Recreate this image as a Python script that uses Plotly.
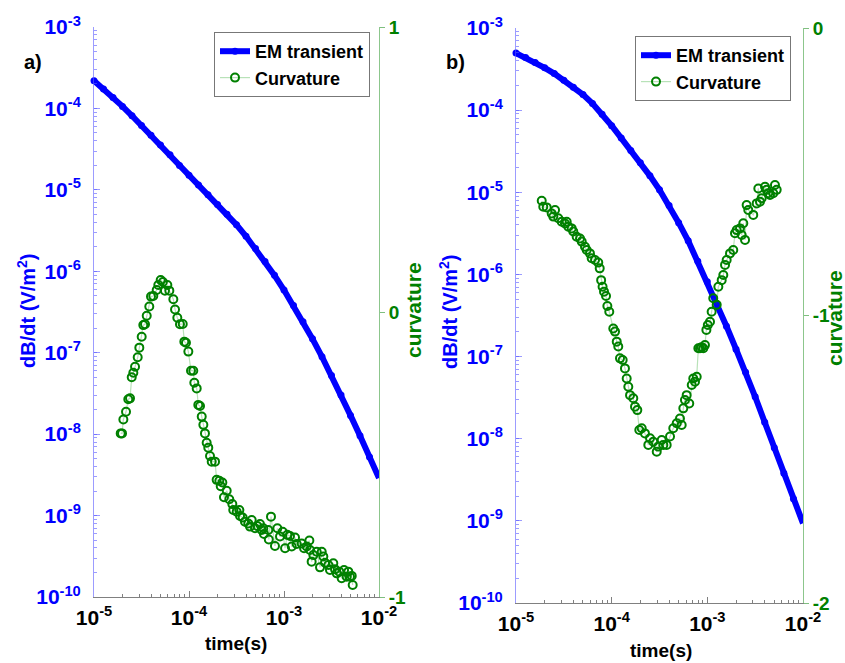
import numpy as np
import plotly.graph_objects as go

# ---------------- data ----------------
# time grid of the EM transients (s), every 0.1 decade
em_time_log10 = [-5.0, -4.9, -4.8, -4.7, -4.6, -4.5, -4.4, -4.3, -4.2, -4.1,
                 -4.0, -3.9, -3.8, -3.7, -3.6, -3.5, -3.4, -3.3, -3.2, -3.1,
                 -3.0, -2.9, -2.8, -2.7, -2.6, -2.5, -2.4, -2.3, -2.2, -2.1, -2.0]
# log10 of dB/dt (V/m^2)
em_a_log10 = [-3.66, -3.76, -3.865, -3.975, -4.09, -4.21, -4.33, -4.45, -4.57, -4.70,
              -4.82, -4.94, -5.06, -5.18, -5.30, -5.43, -5.57, -5.72, -5.88, -6.05,
              -6.23, -6.42, -6.62, -6.83, -7.05, -7.28, -7.52, -7.77, -8.02, -8.28, -8.54]
em_b_log10 = [-3.305, -3.36, -3.42, -3.485, -3.555, -3.635, -3.72, -3.81, -3.92, -4.05,
              -4.19, -4.34, -4.49, -4.64, -4.80, -4.97, -5.16, -5.37, -5.59, -5.84,
              -6.09, -6.36, -6.63, -6.91, -7.19, -7.49, -7.80, -8.11, -8.42, -8.73, -9.03]

# curvature, panel a)
curv_a_time_log10 = [
    -4.719, -4.705, -4.691, -4.663, -4.639, -4.621, -4.603, -4.586, -4.568, -4.540,
    -4.523, -4.498, -4.481, -4.463, -4.445, -4.418, -4.400, -4.376, -4.340, -4.323,
    -4.298, -4.275, -4.253, -4.228, -4.207, -4.165, -4.147, -4.123, -4.095, -4.066,
    -4.049, -4.032, -4.007, -3.979, -3.955, -3.944, -3.919, -3.902, -3.884, -3.866,
    -3.849, -3.832, -3.814, -3.797, -3.779, -3.761, -3.726, -3.709, -3.681, -3.666,
    -3.649, -3.632, -3.603, -3.576, -3.544, -3.534, -3.498, -3.470, -3.463, -3.435,
    -3.411, -3.376, -3.358, -3.340, -3.305, -3.281, -3.253, -3.235, -3.218, -3.211,
    -3.165, -3.160, -3.137, -3.095, -3.070, -3.042, -3.014, -2.989, -2.965, -2.937,
    -2.919, -2.884, -2.866, -2.814, -2.789, -2.761, -2.733, -2.726, -2.709, -2.691,
    -2.656, -2.621, -2.603, -2.586, -2.568, -2.533, -2.516, -2.481, -2.463, -2.445,
    -2.418, -2.393, -2.368, -2.340, -2.323, -2.305, -2.287, -2.277]
curv_a = [
    -0.426, -0.426, -0.377, -0.350, -0.306, -0.303, -0.229, -0.213, -0.192, -0.159,
    -0.125, -0.087, -0.046, -0.043, -0.013, 0.019, 0.054, 0.056, 0.077, 0.095,
    0.112, 0.105, 0.075, 0.095, 0.075, 0.045, 0.009, -0.020, -0.043, -0.042,
    -0.104, -0.108, -0.139, -0.206, -0.206, -0.248, -0.268, -0.326, -0.330, -0.367,
    -0.396, -0.426, -0.459, -0.476, -0.505, -0.525, -0.525, -0.589, -0.592, -0.611,
    -0.598, -0.650, -0.627, -0.657, -0.674, -0.695, -0.701, -0.695, -0.716, -0.721,
    -0.736, -0.742, -0.753, -0.730, -0.759, -0.751, -0.744, -0.765, -0.759, -0.779,
    -0.765, -0.798, -0.718, -0.821, -0.759, -0.788, -0.771, -0.829, -0.782, -0.786,
    -0.823, -0.791, -0.814, -0.812, -0.829, -0.823, -0.802, -0.835, -0.876, -0.853,
    -0.841, -0.896, -0.841, -0.858, -0.880, -0.888, -0.905, -0.882, -0.903, -0.917,
    -0.911, -0.934, -0.905, -0.929, -0.911, -0.929, -0.926, -0.958]

# curvature, panel b)
curv_b_time_log10 = [
    -4.731, -4.715, -4.679, -4.627, -4.610, -4.592, -4.558, -4.522, -4.488, -4.470,
    -4.453, -4.418, -4.401, -4.366, -4.331, -4.313, -4.279, -4.261, -4.227, -4.209,
    -4.174, -4.140, -4.125, -4.110, -4.095, -4.080, -4.059, -4.045, -4.025, -3.983,
    -3.965, -3.947, -3.931, -3.913, -3.885, -3.861, -3.843, -3.826, -3.808, -3.774,
    -3.756, -3.732, -3.711, -3.686, -3.652, -3.617, -3.599, -3.565, -3.529, -3.513,
    -3.477, -3.460, -3.425, -3.390, -3.356, -3.320, -3.286, -3.268, -3.251, -3.234,
    -3.216, -3.189, -3.163, -3.147, -3.129, -3.111, -3.094, -3.077, -3.060, -3.042,
    -3.025, -3.010, -2.995, -2.972, -2.955, -2.938, -2.902, -2.885, -2.850, -2.833,
    -2.815, -2.798, -2.763, -2.729, -2.711, -2.693, -2.659, -2.641, -2.624, -2.606,
    -2.589, -2.572, -2.520, -2.484, -2.467, -2.450, -2.432, -2.397, -2.380, -2.363,
    -2.345, -2.311, -2.293, -2.275]
curv_b = [
    -0.601, -0.622, -0.624, -0.645, -0.656, -0.633, -0.662, -0.674, -0.680, -0.674,
    -0.691, -0.697, -0.708, -0.726, -0.732, -0.743, -0.761, -0.772, -0.784, -0.801,
    -0.807, -0.816, -0.836, -0.877, -0.900, -0.917, -0.932, -0.967, -0.987, -1.045,
    -1.056, -1.091, -1.108, -1.149, -1.155, -1.184, -1.219, -1.248, -1.277, -1.288,
    -1.317, -1.329, -1.398, -1.392, -1.410, -1.450, -1.427, -1.439, -1.474, -1.456,
    -1.433, -1.450, -1.450, -1.421, -1.392, -1.375, -1.358, -1.381, -1.323, -1.294,
    -1.277, -1.306, -1.242, -1.219, -1.230, -1.213, -1.114, -1.114, -1.110, -1.114,
    -1.103, -1.050, -1.033, -1.022, -0.987, -0.940, -0.963, -0.900, -0.877, -0.859,
    -0.824, -0.807, -0.784, -0.772, -0.714, -0.703, -0.697, -0.720, -0.679, -0.737,
    -0.616, -0.633, -0.650, -0.610, -0.558, -0.604, -0.592, -0.552, -0.563, -0.575,
    -0.581, -0.575, -0.546, -0.563]

x_tick_vals = [1e-5, 1e-4, 1e-3, 1e-2]
x_tick_text = ["10<sup>-5</sup>", "10<sup>-4</sup>", "10<sup>-3</sup>", "10<sup>-2</sup>"]
y_tick_vals = [1e-10, 1e-9, 1e-8, 1e-7, 1e-6, 1e-5, 1e-4, 1e-3]
y_tick_text = ["10<sup>-10</sup>", "10<sup>-9</sup>", "10<sup>-8</sup>", "10<sup>-7</sup>",
               "10<sup>-6</sup>", "10<sup>-5</sup>", "10<sup>-4</sup>", "10<sup>-3</sup>"]
curv_a_ticks = [-1, 0, 1]
curv_b_ticks = [-2, -1, 0]

# ---------------- figure ----------------
W, H = 845, 663
FONT = "Liberation Sans, Arial, sans-serif"
BLUE = "rgb(0,0,255)"
GREEN = "rgb(0,128,0)"

em_t = 10 ** np.array(em_time_log10)

fig = go.Figure()

def em_trace(vals, xa, ya, leg):
    return go.Scatter(x=em_t, y=10 ** np.array(vals), xaxis=xa, yaxis=ya,
                      mode="lines+markers", name="EM transient", legend=leg,
                      line=dict(color=BLUE, width=6),
                      marker=dict(color=BLUE, size=7), cliponaxis=False)

def curv_trace(tl, vals, xa, ya, leg):
    return go.Scatter(x=10 ** np.array(tl), y=vals, xaxis=xa, yaxis=ya,
                      mode="lines+markers", name="Curvature", legend=leg,
                      line=dict(color="rgba(0,150,0,0.28)", width=1.2),
                      marker=dict(symbol="circle-open", size=8, color=GREEN,
                                  line=dict(width=2, color=GREEN)),
                      cliponaxis=False)

fig.add_trace(em_trace(em_a_log10, "x", "y", "legend"))
fig.add_trace(curv_trace(curv_a_time_log10, curv_a, "x", "y2", "legend"))
fig.add_trace(em_trace(em_b_log10, "x2", "y3", "legend2"))
fig.add_trace(curv_trace(curv_b_time_log10, curv_b, "x2", "y4", "legend2"))

def px_x(p):
    return p / W

def px_y(p):
    return 1 - p / H

xdom_a = [px_x(94), px_x(379)]
xdom_b = [px_x(516), px_x(803)]
ydom_a = [px_y(597), px_y(27)]
ydom_b = [px_y(603), px_y(28)]

def xaxis(dom, anchor):
    return dict(domain=dom, anchor=anchor, type="log", range=[-5, -2],
                tickmode="array", tickvals=x_tick_vals, ticktext=x_tick_text,
                ticks="inside", ticklen=6, tickcolor="gray", tickwidth=1,
                showline=True, linecolor="gray", linewidth=1, mirror=False,
                showgrid=False, zeroline=False, ticklabelstandoff=2,
                minor=dict(ticks="inside", ticklen=3, tickcolor="gray", dtick="D1", showgrid=False),
                tickfont=dict(family=FONT, size=21, color="black", weight="bold"),
                automargin=False)

def yaxis_left(dom, anchor):
    return dict(domain=dom, anchor=anchor, type="log", range=[-10, -3],
                tickmode="array", tickvals=y_tick_vals, ticktext=y_tick_text,
                ticks="inside", ticklen=6, tickcolor="rgba(90,90,255,0.6)",
                showline=True, linecolor="rgba(90,90,255,0.6)", linewidth=1,
                showgrid=False, zeroline=False, ticklabelstandoff=8,
                minor=dict(ticks="inside", ticklen=3, tickcolor="rgba(90,90,255,0.6)",
                           dtick="D1", showgrid=False),
                tickfont=dict(family=FONT, size=21, color=BLUE, weight="bold"),
                automargin=False)

def yaxis_right(over, anchor, rng, tv):
    return dict(overlaying=over, anchor=anchor, side="right", range=rng,
                tickmode="array", tickvals=tv, ticktext=[str(v) for v in tv],
                ticks="outside", ticklen=5, tickcolor="rgba(0,128,0,0.5)",
                showline=True, linecolor="rgba(0,128,0,0.45)", linewidth=1,
                showgrid=False, zeroline=False,
                tickfont=dict(family=FONT, size=19, color=GREEN, weight="bold"),
                automargin=False)

legend_common = dict(bgcolor="white", bordercolor="#777777", borderwidth=1,
                     font=dict(family=FONT, size=18, color="black", weight="bold"),
                     xanchor="left", yanchor="top", tracegroupgap=0,
                     itemwidth=30)

fig.update_layout(
    width=W, height=H,
    margin=dict(l=0, r=0, t=0, b=0),
    paper_bgcolor="white", plot_bgcolor="white",
    font=dict(family=FONT, weight="bold"),
    xaxis=xaxis(xdom_a, "y"),
    yaxis=yaxis_left(ydom_a, "x"),
    yaxis2=yaxis_right("y", "x", [-1, 1], curv_a_ticks),
    xaxis2=xaxis(xdom_b, "y3"),
    yaxis3=yaxis_left(ydom_b, "x2"),
    yaxis4=yaxis_right("y3", "x2", [-2, 0], curv_b_ticks),
    legend=dict(x=px_x(214), y=px_y(32), **legend_common),
    legend2=dict(x=px_x(635), y=px_y(36), **legend_common),
    showlegend=True,
)

def ann(text, x, y, size, color, angle=0):
    return dict(text=text, x=px_x(x), y=px_y(y), xref="paper", yref="paper",
                showarrow=False, textangle=angle, xanchor="center", yanchor="middle",
                font=dict(family=FONT, size=size, color=color, weight="bold"))

fig.update_layout(annotations=[
    ann("a)", 33, 62, 20, "black"),
    ann("b)", 455, 62, 20, "black"),
    ann("dB/dt (V/m<sup>2</sup>)", 26, 311, 20, BLUE, -90),
    ann("dB/dt (V/m<sup>2</sup>)", 448, 312, 20, BLUE, -90),
    ann("curvature", 413, 310, 21, GREEN, -90),
    ann("curvature", 834, 318, 21, GREEN, -90),
    ann("time(s)", 236, 643, 19, "black"),
    ann("time(s)", 661, 650, 19, "black"),
])

fig.write_html("out.html")
